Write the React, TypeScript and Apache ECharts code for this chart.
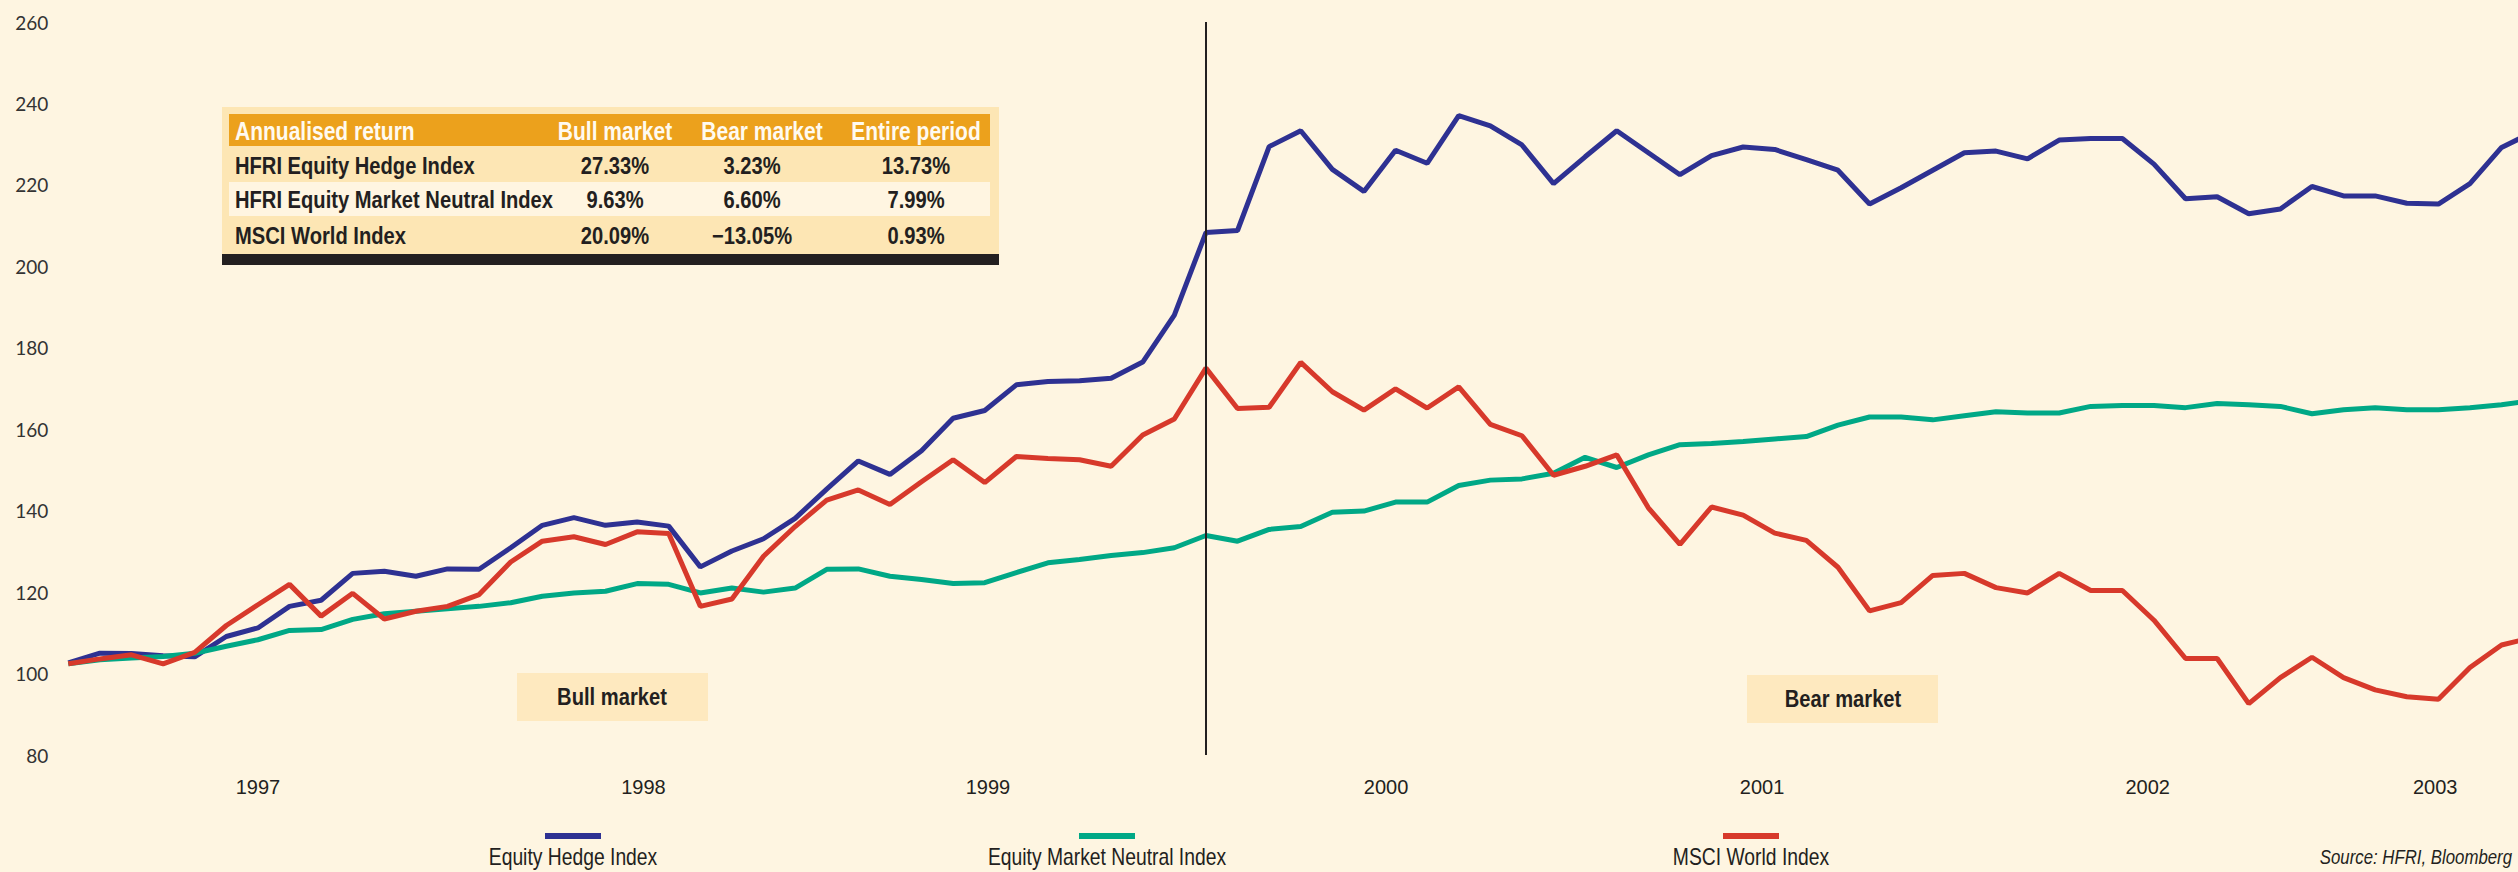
import React, { useEffect, useRef } from 'react';
import * as echarts from 'echarts';

// ---------- data ----------
const seriesNames = ['Equity Hedge Index', 'Equity Market Neutral Index', 'MSCI World Index'];
const seriesColors = ['#2e3192', '#00a886', '#d7392b'];

// monthly index levels, first month = index 0
const equityHedge = [
  102.6, 105.0, 104.9, 104.4, 104.1, 109.1, 111.2, 116.5, 118.0, 124.6,
  125.1, 123.9, 125.7, 125.6, 130.9, 136.4, 138.3, 136.4, 137.2, 136.2,
  126.2, 130.1, 133.1, 138.1, 145.3, 152.2, 148.9, 154.7, 162.7, 164.6,
  170.9, 171.7, 171.9, 172.5, 176.5, 188.0, 208.3, 208.8, 229.4, 233.3,
  223.8, 218.4, 228.5, 225.3, 237.0, 234.5, 229.8, 220.3, 226.9, 233.3,
  227.9, 222.5, 227.2, 229.3, 228.7, 226.2, 223.6, 215.3, 219.3, 223.6,
  227.9, 228.3, 226.4, 231.0, 231.4, 231.4, 225.1, 216.6, 217.1, 212.9,
  214.1, 219.6, 217.3, 217.3, 215.5, 215.3, 220.3, 229.2, 233.0,
];
const marketNeutral = [
  102.4, 103.4, 103.8, 104.2, 105.0, 106.7, 108.3, 110.6, 110.8, 113.3,
  114.7, 115.3, 115.9, 116.5, 117.4, 119.0, 119.8, 120.2, 122.1, 121.9,
  119.8, 121.0, 120.0, 121.0, 125.6, 125.7, 123.9, 123.1, 122.1, 122.3,
  124.8, 127.2, 128.0, 129.0, 129.7, 130.9, 133.9, 132.5, 135.4, 136.1,
  139.6, 139.9, 142.1, 142.1, 146.2, 147.5, 147.8, 149.2, 153.1, 150.6,
  153.7, 156.2, 156.5, 157.0, 157.6, 158.2, 161.0, 163.0, 163.0, 162.3,
  163.3, 164.3, 164.0, 164.0, 165.6, 165.8, 165.8, 165.3, 166.3, 166.0,
  165.6, 163.8, 164.8, 165.3, 164.8, 164.8, 165.3, 166.0, 167.1,
];
const msciWorld = [
  102.4, 103.6, 104.6, 102.4, 105.2, 111.8, 116.9, 121.9, 114.1, 119.7,
  113.4, 115.3, 116.5, 119.4, 127.4, 132.5, 133.6, 131.7, 134.8, 134.4,
  116.5, 118.3, 128.8, 136.1, 142.6, 145.1, 141.5, 147.1, 152.5, 146.9,
  153.3, 152.8, 152.5, 150.9, 158.6, 162.5, 175.0, 165.1, 165.4, 176.4,
  169.2, 164.7, 169.9, 165.2, 170.4, 161.2, 158.4, 148.7, 150.9, 153.7,
  140.7, 131.7, 140.9, 138.9, 134.5, 132.7, 126.1, 115.4, 117.4, 124.1,
  124.6, 121.1, 119.8, 124.6, 120.4, 120.4, 113.1, 103.7, 103.7, 92.6,
  99.0, 104.0, 99.0, 96.0, 94.3, 93.7, 101.5, 107.0, 108.9,
];

const yearLabels = ['1997', '1998', '1999', '2000', '2001', '2002', '2003'];
const yearLabelMonths = [6, 18.2, 29.1, 41.7, 53.6, 65.8, 74.9];
const bullBearSplitMonth = 36;
const visibleMonths = 77.52;

const tableHeader = ['Annualised return', 'Bull market', 'Bear market', 'Entire period'];
const tableRowNames = ['HFRI Equity Hedge Index', 'HFRI Equity Market Neutral Index', 'MSCI World Index'];
const bullReturns = ['27.33%', '9.63%', '20.09%'];
const bearReturns = ['3.23%', '6.60%', '\u221213.05%'];
const entireReturns = ['13.73%', '7.99%', '0.93%'];
const periodLabels = ['Bull market', 'Bear market'];
const sourceText = 'Source: HFRI, Bloomberg';

// ---------- styling ----------
const SANS = "'Liberation Sans', Arial, sans-serif";
const NARROW_SCALE = 0.84;
const INK = '#231f20';
const BG = '#fef5e1';

function narrowText(x: number, y: number, style: any) {
  return {
    type: 'text', x, y, scaleX: NARROW_SCALE, scaleY: 1,
    style: { fontFamily: SANS, fill: INK, verticalAlign: 'middle', ...style },
  };
}

function buildGraphic() {
  const g: any[] = [];
  // table
  g.push({ type: 'rect', shape: { x: 222, y: 107, width: 777, height: 147 }, style: { fill: '#fde6b4' } });
  g.push({ type: 'rect', shape: { x: 229, y: 114, width: 761, height: 32 }, style: { fill: '#eca11c' } });
  g.push({ type: 'rect', shape: { x: 229, y: 182, width: 761, height: 34 }, style: { fill: '#fff5e1' } });
  g.push({ type: 'rect', shape: { x: 222, y: 254, width: 777, height: 11 }, style: { fill: INK } });
  const colX = [235, 615, 762, 916];
  const valX = [235, 615, 752, 916];
  tableHeader.forEach((t, i) => {
    g.push(narrowText(colX[i], 131, {
      text: t, fill: '#fffaf0', fontSize: 25, fontWeight: 'bold', align: i === 0 ? 'left' : 'center',
    }));
  });
  const rowY = [166, 200, 236];
  tableRowNames.forEach((name, r) => {
    const cells = [name, bullReturns[r], bearReturns[r], entireReturns[r]];
    cells.forEach((t, c) => {
      g.push(narrowText(valX[c], rowY[r], {
        text: t, fontSize: 24, fontWeight: 'bold', align: c === 0 ? 'left' : 'center',
      }));
    });
  });
  // bull / bear boxes
  const boxes = [
    { x: 517, y: 673, cx: 612, cy: 697 },
    { x: 1747, y: 675, cx: 1843, cy: 699 },
  ];
  periodLabels.forEach((t, i) => {
    const b = boxes[i];
    g.push({ type: 'rect', shape: { x: b.x, y: b.y, width: 191, height: 48 }, style: { fill: '#fee9bf' } });
    g.push(narrowText(b.cx, b.cy, { text: t, fontSize: 24, fontWeight: 'bold', align: 'center' }));
  });
  // legend
  const legendX = [573, 1107, 1751];
  seriesNames.forEach((n, i) => {
    g.push({ type: 'rect', shape: { x: legendX[i] - 28, y: 833, width: 56, height: 6 }, style: { fill: seriesColors[i] } });
    g.push(narrowText(legendX[i], 857, { text: n, fontSize: 23, align: 'center' }));
  });
  g.push(narrowText(2512, 857, { text: sourceText, fontSize: 20, fontStyle: 'italic', align: 'right' }));
  return g;
}

export default function App() {
  const ref = useRef<HTMLDivElement>(null);
  useEffect(() => {
    if (!ref.current) return;
    const chart = echarts.init(ref.current, undefined, { renderer: 'svg' });
    const toPairs = (arr: number[]) => arr.map((v, i) => [i, v]);
    const allSeries = [equityHedge, marketNeutral, msciWorld];
    chart.setOption({
      animation: false,
      backgroundColor: BG,
      grid: { left: 68.3, right: 0, top: 22, bottom: 117, containLabel: false },
      xAxis: {
        type: 'value', min: 0, max: visibleMonths,
        axisLine: { show: false }, axisTick: { show: false }, splitLine: { show: false },
        axisLabel: {
          customValues: yearLabelMonths,
          formatter: (v: number) => {
            const k = yearLabelMonths.findIndex((p) => Math.abs(p - v) < 1e-6);
            return k >= 0 ? yearLabels[k] : '';
          },
          margin: 32, verticalAlign: 'middle', fontSize: 20, color: INK, fontFamily: SANS,
        },
      },
      yAxis: {
        type: 'value', min: 80, max: 260, interval: 20,
        axisLine: { show: false }, axisTick: { show: false }, splitLine: { show: false },
        axisLabel: { margin: 20, fontSize: 19, color: '#333333', fontFamily: 'Lato, sans-serif' },
      },
      series: allSeries.map((arr, i) => ({
        name: seriesNames[i],
        type: 'line',
        data: toPairs(arr),
        symbol: 'none',
        lineStyle: { color: seriesColors[i], width: 5 },
        itemStyle: { color: seriesColors[i] },
        z: 2 + i,
        markLine: i === 0 ? {
          silent: true, symbol: 'none', label: { show: false },
          lineStyle: { color: INK, width: 2, type: 'solid' },
          data: [{ xAxis: bullBearSplitMonth }],
        } : undefined,
      })),
      graphic: buildGraphic(),
    });
    return () => chart.dispose();
  }, []);
  return <div ref={ref} style={{ position: 'fixed', left: 0, top: 0, width: 2518, height: 872 }} />;
}
